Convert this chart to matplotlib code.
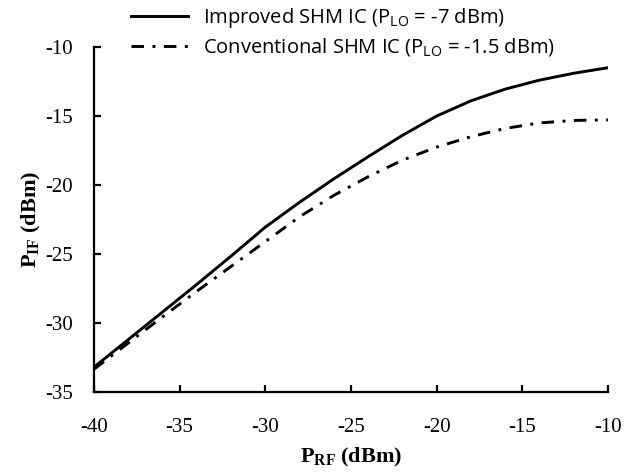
import matplotlib
matplotlib.use("Agg")
import matplotlib.pyplot as plt

plt.rcParams["axes.unicode_minus"] = False
plt.rcParams["mathtext.fontset"] = "custom"
plt.rcParams["mathtext.rm"] = "Open Sans"
plt.rcParams["mathtext.bf"] = "Liberation Serif:bold"

p_rf = [-40, -38, -36, -34, -32, -30, -28, -26, -24, -22, -20, -18, -16, -14, -12, -10]
p_if_improved = [-33.2, -31.2, -29.2, -27.2, -25.15, -23.05, -21.25, -19.55, -17.95, -16.4,
                 -15.0, -13.9, -13.05, -12.4, -11.9, -11.5]
p_if_conventional = [-33.35, -31.45, -29.55, -27.7, -25.9, -24.1, -22.3, -20.75, -19.4, -18.2,
                     -17.25, -16.5, -15.9, -15.5, -15.32, -15.28]

xticks = [-40, -35, -30, -25, -20, -15, -10]
yticks = [-35, -30, -25, -20, -15, -10]

fig = plt.figure(figsize=(6.33, 4.75), dpi=100)
ax = fig.add_axes([0.1485, 0.1747, 0.812, 0.7263])

ax.plot(p_rf, p_if_improved, color="black", lw=2.1, solid_joinstyle="round",
        label=r"Improved SHM IC (P$_{\mathrm{LO}}$ = -7 dBm)")
ax.plot(p_rf, p_if_conventional, color="black", lw=2.1, dashes=(4.3, 2.9, 1.0, 2.9),
        label=r"Conventional SHM IC (P$_{\mathrm{LO}}$ = -1.5 dBm)")

ax.set_xlim(-40, -10)
ax.set_ylim(-35, -10)
ax.set_xticks(xticks)
ax.set_yticks(yticks)
for s in ["top", "right"]:
    ax.spines[s].set_visible(False)
for s in ["left", "bottom"]:
    ax.spines[s].set_linewidth(1.6)
ax.tick_params(direction="in", length=5, width=1.6, labelsize=15)
ax.tick_params(axis="x", pad=19)
ax.tick_params(axis="y", pad=15)
for lab in ax.get_xticklabels() + ax.get_yticklabels():
    lab.set_fontfamily("Liberation Serif")

ax.set_xlabel(r"$\mathbf{P_{RF}}$ (dBm)", fontfamily="Liberation Serif",
              fontweight="bold", fontsize=16, labelpad=6)
ax.set_ylabel(r"$\mathbf{P_{IF}}$ (dBm)", fontfamily="Liberation Serif",
              fontweight="bold", fontsize=16, labelpad=2)

leg = fig.legend(loc="upper left", bbox_to_anchor=(0.207, 0.987), frameon=False,
                 prop={"family": "Open Sans", "size": 14.5}, handlelength=2.85,
                 handletextpad=0.7, labelspacing=0.3, borderpad=0, borderaxespad=0)

fig.savefig("out.png", dpi=100)
